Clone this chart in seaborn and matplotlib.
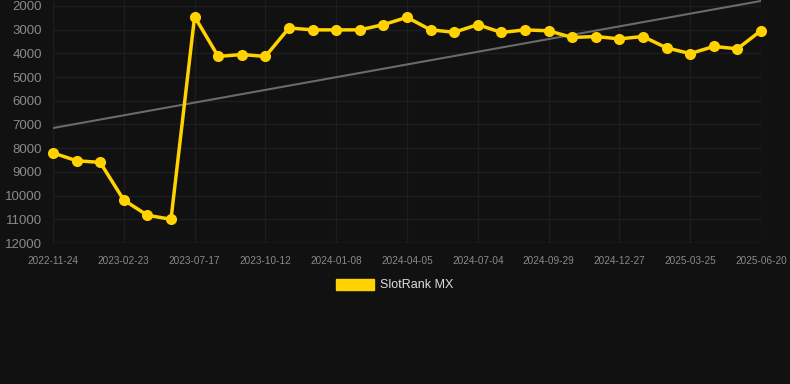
import numpy as np
import matplotlib.pyplot as plt
import seaborn as sns
import pandas as pd
from matplotlib.patches import Patch

# rank values, one point per snapshot (31 snapshots, every 3rd one is labelled)
rank = [8200, 8530, 8600, 10190, 10830, 11000, 2450, 4130, 4050, 4130,
        2930, 3010, 3010, 3010, 2790, 2480, 3010, 3110, 2790, 3120,
        3010, 3050, 3330, 3290, 3390, 3290, 3770, 4010, 3710, 3810, 3040]
tick_dates = ["2022-11-24", "2023-02-23", "2023-07-17", "2023-10-12", "2024-01-08",
              "2024-04-05", "2024-07-04", "2024-09-29", "2024-12-27", "2025-03-25",
              "2025-06-20"]
trend_ends = [7150, 1790]
y_ticks = [2000, 3000, 4000, 5000, 6000, 7000, 8000, 9000, 10000, 11000, 12000]

bg = "#111111"
gold = "#FFD200"

df = pd.DataFrame({"idx": np.arange(len(rank)), "rank": rank})
trend = pd.DataFrame({"idx": [0, len(rank) - 1], "rank": trend_ends})

sns.set_style("dark")
plt.rcParams["font.family"] = ["Liberation Sans", "DejaVu Sans"]

fig = plt.figure(figsize=(7.9, 3.84), dpi=100, facecolor=bg)
ax = fig.add_axes([53 / 790, 1 - 243 / 384, (761 - 53) / 790, 243 / 384])
ax.set_facecolor(bg)

sns.lineplot(data=trend, x="idx", y="rank", ax=ax, color="#6a6a6a", linewidth=1.5)
sns.lineplot(data=df, x="idx", y="rank", ax=ax, color=gold, linewidth=2.5,
             marker="o", markersize=8, markeredgewidth=0, clip_on=False)

ax.set_xlim(0, len(rank) - 1)
ax.set_ylim(12000, 1750)
ax.set_xticks(np.arange(0, len(rank), 3))
ax.set_xticklabels(tick_dates)
ax.set_yticks(y_ticks)
ax.tick_params(axis="x", colors="#8a8a8a", labelsize=7.2, length=0, pad=9)
ax.tick_params(axis="y", colors="#8a8a8a", labelsize=9.5, length=0, pad=8)
ax.grid(True, color="#1d1d1d", linewidth=1)
for s in ax.spines.values():
    s.set_visible(False)
ax.axhline(12000, color="#2a2a2a", linewidth=1)
ax.set_xlabel("")
ax.set_ylabel("")

fig.legend(handles=[Patch(color=gold, label="SlotRank MX")], loc="center",
           bbox_to_anchor=(0.5, 1 - 285 / 384), frameon=False, fontsize=9,
           labelcolor="#dddddd", handlelength=3.0, handleheight=1.0,
           handletextpad=0.5)

fig.savefig("out.png", dpi=100, facecolor=bg)
